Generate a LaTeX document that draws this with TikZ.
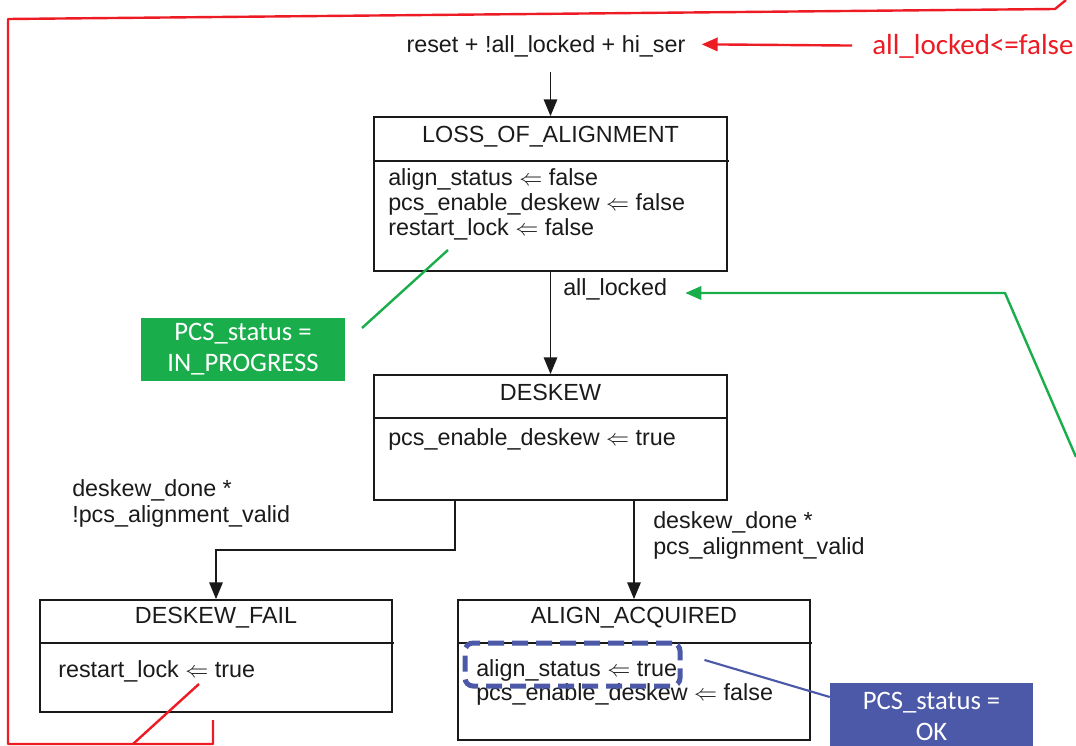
\documentclass[tikz,border=0pt]{standalone}
\usepackage{fontspec}
\setmainfont{Liberation Sans}
\newfontfamily\calib{Carlito}
\usetikzlibrary{arrows.meta}
\newcommand\asg{\ensuremath{\Leftarrow}}
\definecolor{annred}{HTML}{ED1C24}
\definecolor{pcsgreen}{HTML}{19AD4B}
\definecolor{pcsblue}{HTML}{4C59A8}
\definecolor{ink}{HTML}{1A1A1A}
\begin{document}
\begin{tikzpicture}[x=0.75pt,y=-0.75pt,
  statebox/.style={draw=ink, line width=1.3pt, inner sep=0pt},
  divider/.style={draw=ink, line width=1.3pt},
  txt/.style={font=\fontsize{17.5}{21}\selectfont, text=ink, inner sep=0pt, anchor=base west,
              text height=12.5pt, text depth=3pt},
  ttl/.style={txt, anchor=base},
  arr/.style={draw=ink, line width=1.3pt, -{Triangle[length=12.5pt,width=10pt]}},
  redline/.style={draw=annred, line width=1.8pt, line join=round},
  redarr/.style={redline, -{Triangle[length=12pt,width=10pt]}},
  greenline/.style={draw=pcsgreen, line width=1.8pt, line join=round},
  greenarr/.style={greenline, -{Triangle[length=12pt,width=10pt]}},
  callout/.style={font=\calib\fontsize{20}{23.25}\selectfont, text=white, align=center, inner sep=0pt}
]
\useasboundingbox (0,0) rectangle (1076,746);

% ---------- states ----------
\node[statebox, minimum width=353*0.75pt, minimum height=154*0.75pt] (loa) at (550.5,194) {};
\draw[divider] (374,161) -- (729,161);
\node[ttl] (loaT) at (550.5,142) {LOSS\_OF\_ALIGNMENT};
\node[txt] (loa1) at (388,185) {align\_status \asg{} false};
\node[txt] (loa2) at (388,210) {pcs\_enable\_deskew \asg{} false};
\node[txt] (loa3) at (388,235) {restart\_lock \asg{} false};

\node[statebox, minimum width=353*0.75pt, minimum height=125*0.75pt] (dsk) at (550.5,437.5) {};
\draw[divider] (374,418) -- (727,418);
\node[ttl] (dskT) at (550.5,400) {DESKEW};
\node[txt] (dsk1) at (388,445) {pcs\_enable\_deskew \asg{} true};

\node[statebox, minimum width=352*0.75pt, minimum height=112*0.75pt] (fail) at (216,656) {};
\draw[divider] (40,643) -- (394,643);
\node[ttl] (failT) at (216,623) {DESKEW\_FAIL};
\node[txt] (fail1) at (58,677) {restart\_lock \asg{} true};

\node[statebox, minimum width=352*0.75pt, minimum height=140*0.75pt] (acq) at (634,670) {};
\draw[divider] (458,643) -- (812,643);
\node[ttl] (acqT) at (634,623) {ALIGN\_ACQUIRED};
\node[txt] (acq1) at (476,676) {align\_status \asg{} true};
\node[txt] (acq2) at (476,700) {pcs\_enable\_deskew \asg{} false};

% ---------- transition conditions ----------
\node[ttl] (rst) at (546,52) {reset + !all\_locked + hi\_ser};
\node[txt] (alk) at (563,295) {all\_locked};
\node[txt] (c1a) at (72,496) {deskew\_done *};
\node[txt] (c1b) at (72,522) {!pcs\_alignment\_valid};
\node[txt] (c2a) at (653,528) {deskew\_done *};
\node[txt] (c2b) at (653,554) {pcs\_alignment\_valid};

% ---------- transitions ----------
\draw[arr] ([yshift=-12pt]rst.south -| loa.north) -- (loa.north);
\draw[arr] (loa.south) -- (dsk.north);
\draw[arr] ([xshift=-95.5*0.75pt]dsk.south) -- ++(0,49) -| (fail.north);
\draw[arr] (acq.north |- dsk.south) -- (acq.north);

% ---------- annotations ----------
\node[font=\calib\fontsize{21.75}{26}\selectfont, text=annred, inner sep=0pt, anchor=base west] (alf) at (872,55) {all\_locked<=false};
\draw[redarr] ([xshift=-15pt,yshift=1pt]alf.west) -- ([xshift=12pt,yshift=1pt]rst.east);
\draw[redline] (213,720) -- (213,744) -- (8,744) -- (8,19) -- (1055,9) -- (1066,0);
\coordinate (rfrom) at (199,684);
\coordinate (rto) at (133,744);
\draw[redline] (rfrom) -- (rto);

\node[fill=pcsgreen, callout, minimum width=204*0.75pt, minimum height=63*0.75pt] (gbox) at (243,349.5) {PCS\_status =\\IN\_PROGRESS};
\coordinate (gfrom) at (362,328);
\coordinate (gto) at (448,250);
\draw[greenline] (gfrom) -- (gto);

\coordinate (gedge) at (1076,457);
\coordinate (gcorner) at (1005,293);
\coordinate (gtip) at ([xshift=13.5pt]alk.east);
\draw[greenarr] (gedge) -- (gcorner) -- (gtip |- gcorner);

\node[draw=pcsblue, line width=3.75pt, dash pattern=on 12pt off 6pt, rounded corners=6pt,
      minimum width=215*0.75pt, minimum height=43*0.75pt, inner sep=0pt] (hl) at (572.5,664.5) {};
\node[fill=pcsblue, callout, minimum width=203*0.75pt, minimum height=66*0.75pt] (bbox) at (931.5,716) {PCS\_status =\\OK};
\draw[draw=pcsblue, line width=1.6pt] ([xshift=16.5pt,yshift=3.4pt]hl.east) -- ([yshift=14.25pt]bbox.west);
\end{tikzpicture}
\end{document}
